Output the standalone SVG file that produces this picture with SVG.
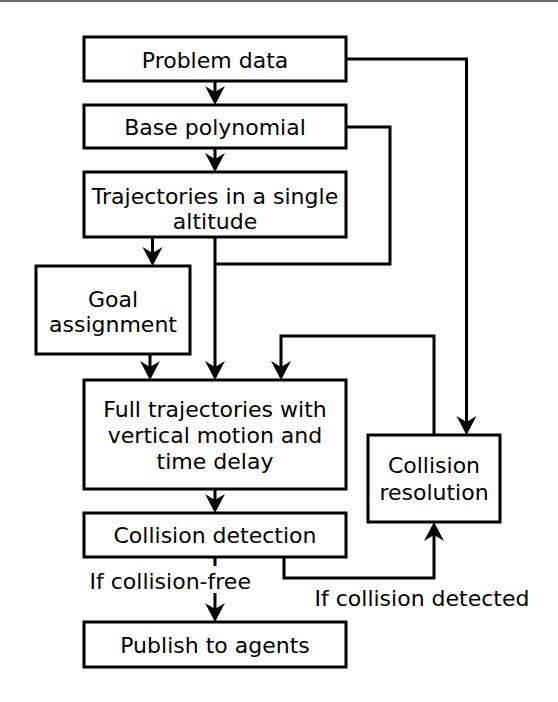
<svg xmlns="http://www.w3.org/2000/svg" width="558" height="702" viewBox="0 0 558 702">
  <style>
    .box { fill: #ffffff; stroke: #000000; stroke-width: 3; }
    .lbl { font-family: "DejaVu Sans", "Verdana", sans-serif; font-size: 22px; fill: #000000; text-anchor: middle; }
    .note { font-family: "DejaVu Sans", "Verdana", sans-serif; font-size: 22px; fill: #000000; }
    .wire { fill: none; stroke: #000000; stroke-width: 3; }
    .arr { marker-end: url(#ah); }
  </style>
  <defs>
    <marker id="ah" markerUnits="userSpaceOnUse" viewBox="-20 -11 21 22" markerWidth="21" markerHeight="22" refX="-4" refY="0" orient="auto">
      <path d="M0,0 L-19,-10 L-13,0 L-19,10 Z" fill="#000000"/>
    </marker>
  </defs>
  <rect x="0" y="0" width="558" height="702" fill="#ffffff"/>
  <rect x="0" y="0" width="558" height="2" fill="#6a6a6a"/>

  <g id="connectors">
    <path class="wire arr" d="M215,81 V101"/>
    <path class="wire arr" d="M215,148 V168"/>
    <path class="wire arr" d="M152.5,237 V262"/>
    <path class="wire arr" d="M215,237 V376"/>
    <path class="wire" d="M346,127 H390 V264 H215"/>
    <path class="wire arr" d="M346,59 H466.5 V431"/>
    <path class="wire arr" d="M150,354 V376"/>
    <path class="wire arr" d="M434,435 V336 H281 V376"/>
    <path class="wire arr" d="M215,489 V509"/>
    <path class="wire" d="M215,557 V566"/>
    <path class="wire arr" d="M215,593 V618"/>
    <path class="wire arr" d="M284,557 V578 H434 V526"/>
  </g>

  <g id="problem-data">
    <rect class="box" x="84" y="37" width="262" height="44"/>
    <text class="lbl" x="215" y="67.8">Problem data</text>
  </g>
  <g id="base-polynomial">
    <rect class="box" x="84" y="105" width="262" height="43"/>
    <text class="lbl" x="215" y="134.8">Base polynomial</text>
  </g>
  <g id="trajectories-single-altitude">
    <rect class="box" x="84" y="172" width="262" height="65"/>
    <text class="lbl" x="215" y="203.8">Trajectories in a single</text>
    <text class="lbl" x="215" y="229.3">altitude</text>
  </g>
  <g id="goal-assignment">
    <rect class="box" x="36" y="266" width="154" height="88"/>
    <text class="lbl" x="113" y="306.8">Goal</text>
    <text class="lbl" x="113" y="332.3">assignment</text>
  </g>
  <g id="full-trajectories">
    <rect class="box" x="84" y="380" width="262" height="109"/>
    <text class="lbl" x="215" y="416.8">Full trajectories with</text>
    <text class="lbl" x="215" y="442.8">vertical motion and</text>
    <text class="lbl" x="215" y="468.8">time delay</text>
  </g>
  <g id="collision-resolution">
    <rect class="box" x="368" y="435" width="132" height="87"/>
    <text class="lbl" x="434" y="473.3">Collision</text>
    <text class="lbl" x="434" y="499.8">resolution</text>
  </g>
  <g id="collision-detection">
    <rect class="box" x="84" y="513" width="262" height="44"/>
    <text class="lbl" x="215" y="543.3">Collision detection</text>
  </g>
  <g id="publish-to-agents">
    <rect class="box" x="84" y="622" width="262" height="45"/>
    <text class="lbl" x="215" y="652.8">Publish to agents</text>
  </g>

  <g id="labels">
    <text class="note" x="89.5" y="588.5">If collision-free</text>
    <text class="note" x="314.5" y="605.9">If collision detected</text>
  </g>
</svg>
